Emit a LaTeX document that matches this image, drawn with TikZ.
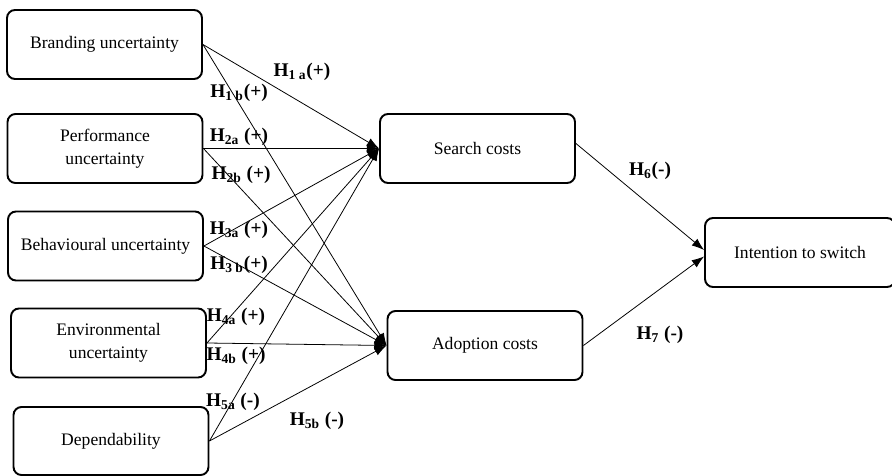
\documentclass[tikz,border=0pt]{standalone}
\usepackage{fontspec}
\setmainfont{Liberation Serif}
\usetikzlibrary{arrows.meta}

\begin{document}
\begin{tikzpicture}[x=0.02cm, y=-0.02cm, every node/.style={scale=1}]
        \tikzstyle{factor}=[draw, line width=1.1pt, rounded corners=0.16cm, align=center,
            minimum width=3.9cm, minimum height=1.38cm, inner sep=2pt,
            font=\fontsize{10}{13}\selectfont]
        \tikzstyle{hyp}=[inner sep=0pt, font=\fontsize{11}{13}\selectfont\bfseries]
        \tikzstyle{link}=[-{Latex[length=7pt,width=5pt]}, line width=0.45pt]
        \useasboundingbox (0,0) rectangle (892,476);

        % constructs
        \node [style=factor] (brand) at (104.5, 44.5) {Branding uncertainty};
        \node [style=factor] (perf) at (105, 148.5) {Performance\\uncertainty};
        \node [style=factor] (behav) at (105.5, 246) {Behavioural uncertainty};
        \node [style=factor] (env) at (108.5, 343) {Environmental\\uncertainty};
        \node [style=factor, minimum height=1.36cm] (dep) at (111, 441) {Dependability};
        \node [style=factor] (search) at (477.5, 148.5) {Search costs};
        \node [style=factor] (adopt) at (485, 345.5) {Adoption costs};
        \node [style=factor, minimum width=3.8cm] (intent) at (800, 252.5) {Intention to switch};

        % paths to search costs
        \draw [style=link] (brand.east) to (search.west);
        \draw [style=link] (perf.east) to (search.west);
        \draw [style=link] (behav.east) to (search.west);
        \draw [style=link] (env.east) to (search.west);
        \draw [style=link] (dep.east) to (search.west);

        % paths to adoption costs
        \draw [style=link] (brand.east) to (adopt.west);
        \draw [style=link] (perf.east) to (adopt.west);
        \draw [style=link] (behav.east) to (adopt.west);
        \draw [style=link] (env.east) to (adopt.west);
        \draw [style=link] (dep.east) to (adopt.west);

        % switching costs to intention
        \draw [style=link] ([yshift=0.1cm]search.east) to ([yshift=0.05cm]intent.west);
        \draw [style=link] (adopt.east) to ([yshift=-0.08cm]intent.west);

        \node [style=hyp] (h1a) at (302, 72) {H\textsubscript{1 a}(+)};
        \node [style=hyp] (h1b) at (239, 93) {H\textsubscript{1 b}(+)};
        \node [style=hyp] (h2a) at (239, 137) {H\textsubscript{2a} (+)};
        \node [style=hyp] (h2b) at (241, 175) {H\textsubscript{2b} (+)};
        \node [style=hyp] (h3a) at (239, 230) {H\textsubscript{3a} (+)};
        \node [style=hyp] (h3b) at (239, 265) {H\textsubscript{3 b}(+)};
        \node [style=hyp] (h4a) at (236, 317) {H\textsubscript{4a} (+)};
        \node [style=hyp] (h4b) at (236, 356) {H\textsubscript{4b} (+)};
        \node [style=hyp] (h5a) at (233, 402) {H\textsubscript{5a} (-)};
        \node [style=hyp] (h5b) at (317, 421) {H\textsubscript{5b} (-)};
        \node [style=hyp] (h6) at (650, 171) {H\textsubscript{6}(-)};
        \node [style=hyp] (h7) at (660, 335) {H\textsubscript{7} (-)};
\end{tikzpicture}
\end{document}
